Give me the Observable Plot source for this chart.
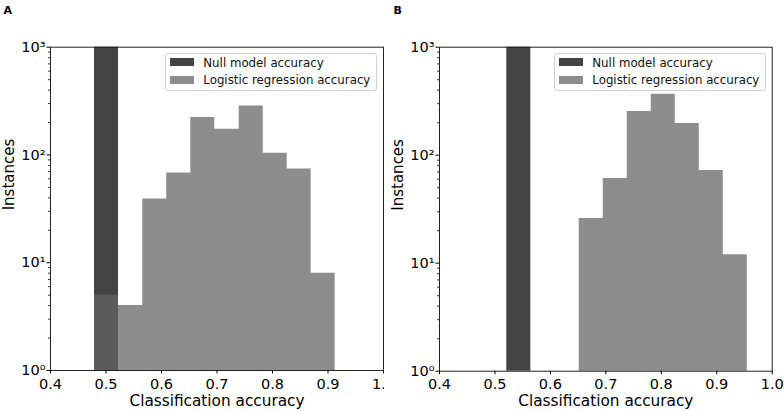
<!DOCTYPE html>
<html>
<head>
<meta charset="utf-8">
<script src="https://cdn.jsdelivr.net/npm/d3@7"></script>
<script src="https://cdn.jsdelivr.net/npm/@observablehq/plot@0.6"></script>
<style>
  html, body { margin: 0; padding: 0; background: white; }
  #wrap { position: relative; width: 784px; height: 411px; background: white; font-family: "DejaVu Sans", sans-serif; overflow: hidden; }
  .panel { position: absolute; top: 0; height: 411px; overflow: hidden; }
  .letter { position: absolute; font-weight: bold; font-size: 11px; line-height: 11px; color: #000; }
  .legend { position: absolute; border: 1px solid #d0d0d0; border-radius: 3px; background: rgba(255,255,255,0.85); box-sizing: border-box; }
  .sw { position: absolute; width: 24px; height: 7.5px; }
  .lt { position: absolute; font-size: 11.8px; line-height: 11.8px; white-space: nowrap; color: #111; }
</style>
</head>
<body>
<div id="wrap"></div>
<script>
// ---------- data ----------
const xTicks = [0.4, 0.5, 0.6, 0.7, 0.8, 0.9, 1.0];
const yTicks = [1, 10, 100, 1000];
const yTickLabels = ["10\u2070", "10\u00B9", "10\u00B2", "10\u00B3"];
const yMinorTicks = [2,3,4,5,6,7,8,9,20,30,40,50,60,70,80,90,200,300,400,500,600,700,800,900];

const binEdgesA = [0.4793, 0.5225, 0.5663, 0.6095, 0.6528, 0.696, 0.74, 0.7833, 0.8265, 0.8697, 0.9129];
const logisticCountsA = [5, 4, 39, 68, 223, 173, 284, 104, 74, 8];
const nullBinA = [0.4793, 0.5225];
const nullCountA = 1000;

const binEdgesB = [0.652, 0.6953, 0.7386, 0.7819, 0.8252, 0.8685, 0.9118, 0.9551];
const logisticCountsB = [26, 61, 254, 367, 197, 72, 12];
const nullBinB = [0.5214, 0.5647];
const nullCountB = 1000;

const legendLabels = ["Null model accuracy", "Logistic regression accuracy"];
const panelLetters = ["A", "B"];
const xLabel = "Classification accuracy";
const yLabel = "Instances";

// ---------- styles ----------
const nullColor = "#434343";
const logisticSwatch = "#8c8c8c";
const logisticFill = "#636363";
const logisticOpacity = 0.735;

function makePanel({left, width, marginLeft, marginRight, marginBottom, edges, counts, nullBin, nullCount, letter}) {
  // step outline of the histogram: one point per left bin edge, plus the closing right edge
  const steps = edges.map((e, i) => ({x: e, c: counts[Math.min(i, counts.length - 1)]}));
  const nul = [{x1: nullBin[0], x2: nullBin[1], c: nullCount}];
  const chart = Plot.plot({
    width, height: 411,
    marginLeft, marginRight, marginTop: 46.7, marginBottom,
    style: {fontFamily: "DejaVu Sans", fontSize: "14.5px", color: "#000", background: "white", overflow: "hidden"},
    x: {domain: [0.4, 1.0], label: null},
    y: {type: "log", domain: [1, 1000], label: null},
    marks: [
      Plot.rectY(nul, {x1: "x1", x2: "x2", y1: 1, y2: "c", fill: nullColor, inset: 0}),
      Plot.areaY(steps, {x: "x", y1: 1, y2: "c", curve: "step-after", fill: logisticFill, fillOpacity: logisticOpacity}),
      Plot.frame({stroke: "#222", strokeWidth: 1}),
      Plot.axisX({ticks: xTicks, tickSize: 3.5, tickPadding: 4.5, tickFormat: d3.format(".1f"), label: null}),
      Plot.axisY({ticks: yTicks, tickSize: 3.5, tickPadding: 1.5, tickFormat: d => yTickLabels[yTicks.indexOf(d)], label: null}),
      Plot.axisY({ticks: yMinorTicks, tickSize: 2, tickFormat: () => "", label: null, strokeWidth: 0.8}),
      Plot.text([xLabel], {frameAnchor: "bottom", text: d => d, dy: 30.2, fontSize: 15.3, lineAnchor: "middle"}),
      Plot.text([yLabel], {frameAnchor: "left", text: d => d, rotate: -90, dx: -41.7, dy: 1.5, fontSize: 15, lineAnchor: "middle"})
    ]
  });
  const div = document.createElement("div");
  div.className = "panel";
  div.style.left = left + "px";
  div.style.width = width + "px";
  div.appendChild(chart);

  const L = document.createElement("div");
  L.className = "letter";
  L.textContent = letter;
  L.style.left = "3.5px";
  L.style.top = "5px";
  div.appendChild(L);

  const plotLeft = marginLeft;
  const lg = document.createElement("div");
  lg.className = "legend";
  lg.style.left = (plotLeft + 115) + "px";
  lg.style.top = "52.7px";
  lg.style.width = "212px";
  lg.style.height = "38.7px";
  div.appendChild(lg);
  const colors = [nullColor, logisticSwatch];
  legendLabels.forEach((t, i) => {
    const sw = document.createElement("div");
    sw.className = "sw";
    sw.style.background = colors[i];
    sw.style.left = (plotLeft + 119.5) + "px";
    sw.style.top = (58.3 + i * 17.7) + "px";
    div.appendChild(sw);
    const tx = document.createElement("div");
    tx.className = "lt";
    tx.textContent = t;
    tx.style.left = (plotLeft + 153.3) + "px";
    tx.style.top = (67.7 + i * 17.3 - 0.846 * 11.8) + "px";
    div.appendChild(tx);
  });
  document.getElementById("wrap").appendChild(div);
}

makePanel({left: 0, width: 384, marginLeft: 50, marginRight: 1, marginBottom: 41,
  edges: binEdgesA, counts: logisticCountsA, nullBin: nullBinA, nullCount: nullCountA, letter: panelLetters[0]});
makePanel({left: 390, width: 394, marginLeft: 49, marginRight: 12.3, marginBottom: 40.3,
  edges: binEdgesB, counts: logisticCountsB, nullBin: nullBinB, nullCount: nullCountB, letter: panelLetters[1]});
</script>
</body>
</html>
